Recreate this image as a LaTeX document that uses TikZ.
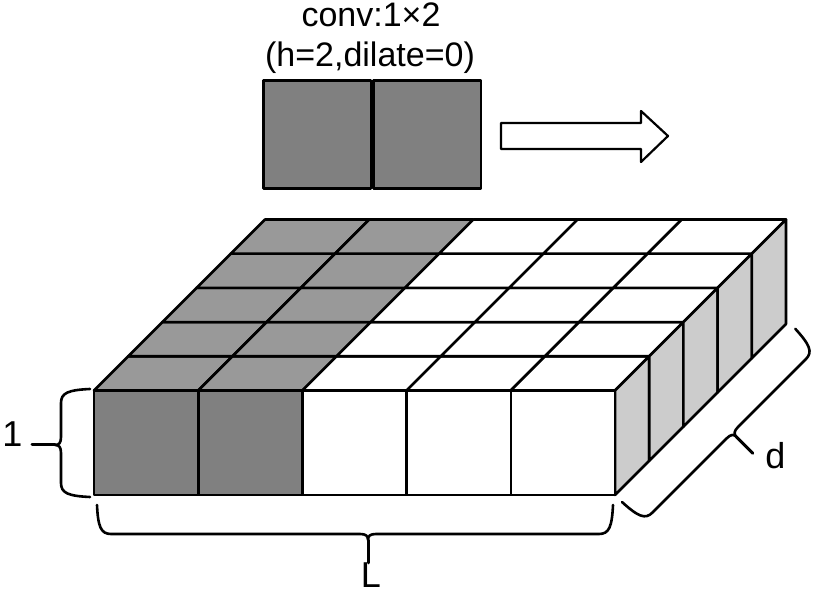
\documentclass[tikz,border=0pt]{standalone}
\usepackage{fontspec}
\setmainfont{Liberation Sans}

% curly brace: start point, angle, length, position of the tip
\newcommand{\curly}[4]{%
    \begin{scope}[shift={#1}, rotate=#2]
        \draw [brace] (0,0) .. controls (1,-22) and (4,-29) .. (14,-29)
            -- ({#4-8},-29) .. controls ({#4-2},-29) and (#4,-31) .. (#4,-35)
            .. controls (#4,-31) and ({#4+2},-29) .. ({#4+8},-29)
            -- ({#3-14},-29) .. controls ({#3-4},-29) and ({#3-1},-22) .. (#3,0);
        \draw [brace, line width=3pt] (#4,-35) -- (#4,-58);
    \end{scope}}

\begin{document}
\begin{tikzpicture}[x=1pt, y=1pt, line width=2.6pt, line join=round]
    \tikzset{
        kernel/.style={draw, fill=black!50, minimum width=107.5, minimum height=108, inner sep=0, anchor=south west},
        side/.style={fill=black!20},
        brace/.style={line width=2.6pt, line cap=round},
        title/.style={font=\fontsize{34}{36}\selectfont, inner sep=0, anchor=base},
        dimlabel/.style={font=\fontsize{36}{38}\selectfont, inner sep=0}
    }
    \useasboundingbox (0,0) rectangle (831,594);
    \def\cw{104.2} \def\ch{104.5} \def\dd{34.2}

    % title and kernel
    \node [title] (conv) at (371,567) {conv:1×2};
    \node [title] (param) at (370,527) {(h=2,dilate=0)};
    \node [kernel] (kl) at (262,404) {};
    \node [kernel] (kr) at (kl.south east) {};

    % block arrow
    \filldraw [fill=white, line width=2.2pt] (501,471) -- (641,471) -- (641,483) -- (668,458)
        -- (641,432) -- (641,445) -- (501,445) -- cycle;

    % top of the input
    \foreach \k in {0,...,4} {
        \foreach \i in {0,...,4} {
            \ifnum\i<2 \def\fc{black!40}\else\def\fc{white}\fi
            \filldraw [fill=\fc] ({94+\i*\cw+\k*\dd},{99+\ch+\k*\dd}) -- ++(\cw,0) -- ++(\dd,\dd) -- ++(-\cw,0) -- cycle;
        }
    }
    % right side
    \foreach \k in {0,...,4}
        \filldraw [side] ({94+5*\cw+\k*\dd},{99+\k*\dd}) -- ++(\dd,\dd) -- ++(0,\ch) -- ++(-\dd,-\dd) -- cycle;
    % front
    \foreach \i in {0,...,4} {
        \ifnum\i<2 \def\fc{black!50}\else\def\fc{white}\fi
        \filldraw [fill=\fc] ({94+\i*\cw},99) rectangle ++(\cw,\ch);
    }

    % braces
    \curly{(97,89)}{0}{516}{271}
    \curly{(90,205)}{-90}{108}{56}
    \curly{(622,92)}{45}{245}{127}
    \node [dimlabel, anchor=base west] (one) at (1,147) {1};
    \node [dimlabel, anchor=base] (len) at (371,6) {L};
    \node [dimlabel, anchor=base west] (dep) at (764,125) {d};
\end{tikzpicture}
\end{document}
